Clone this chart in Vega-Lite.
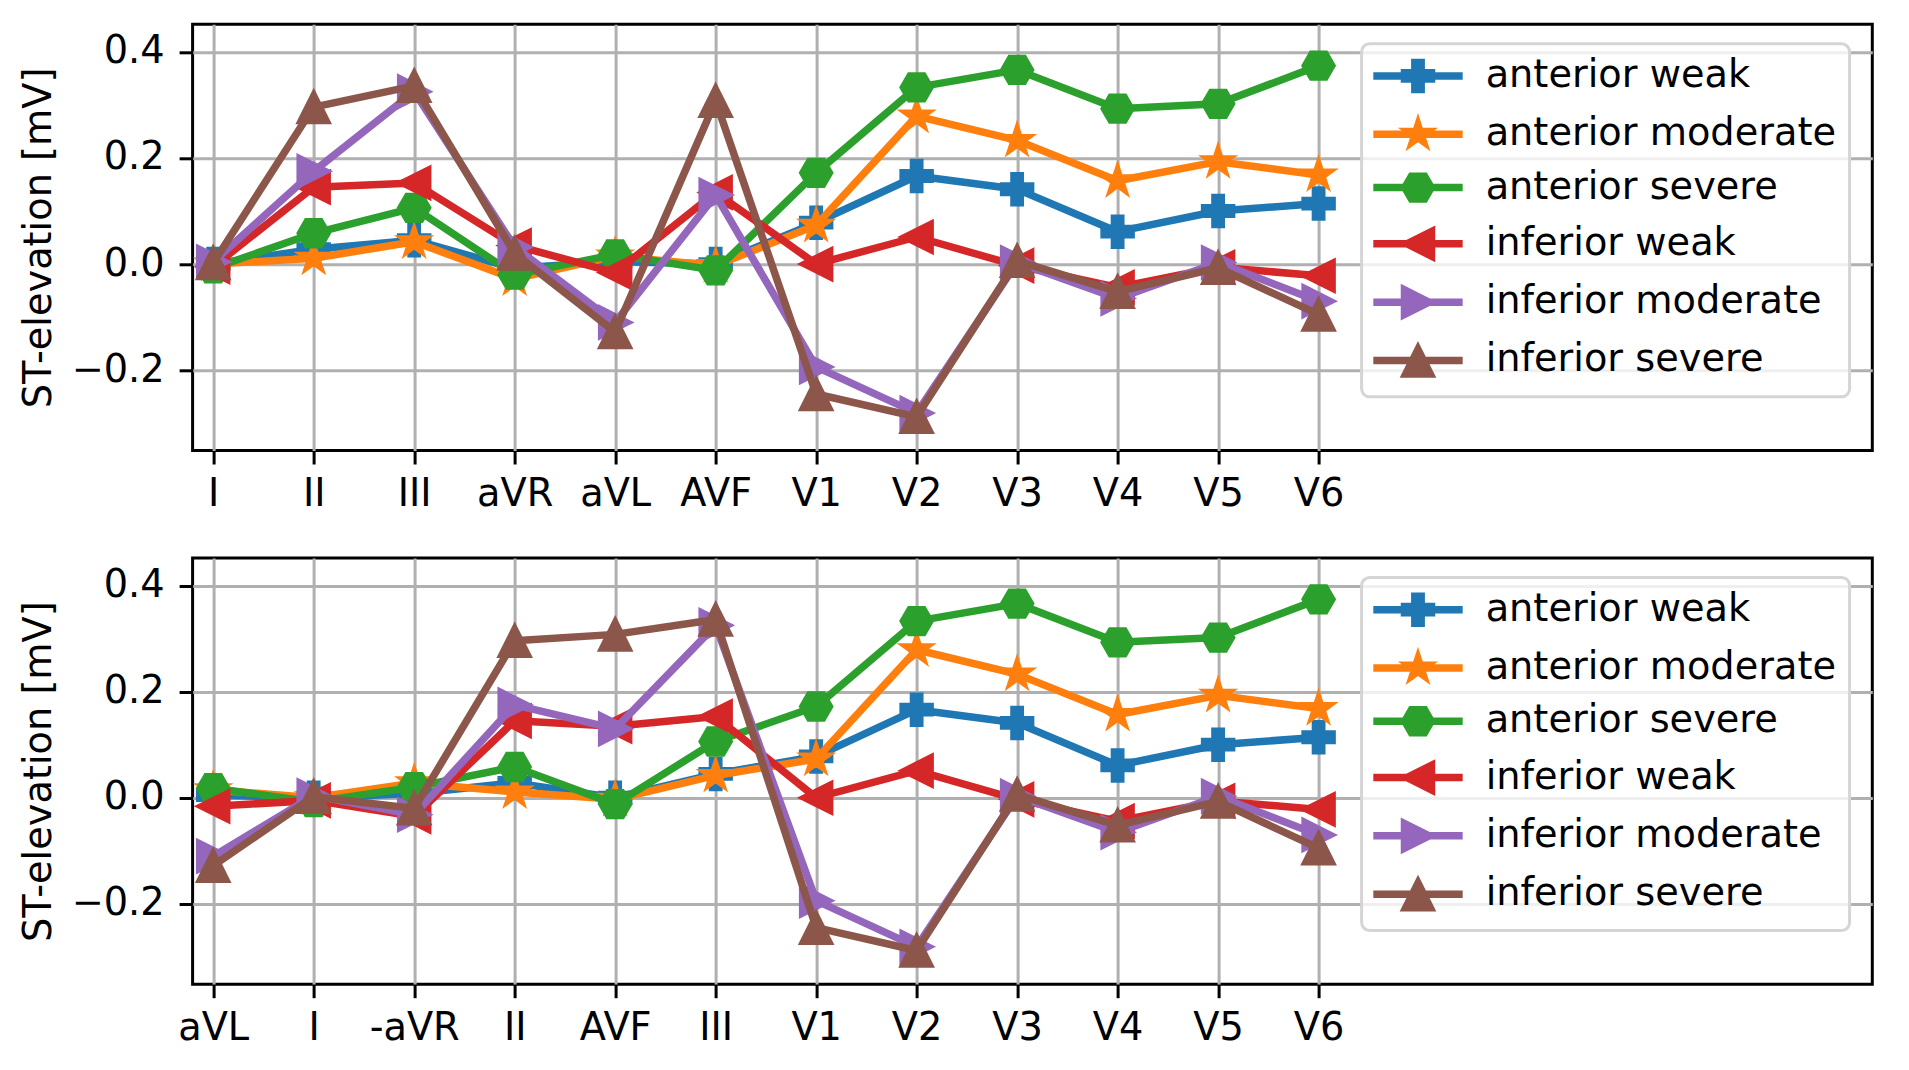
{
  "$schema": "https://vega.github.io/schema/vega-lite/v6.json",
  "background": "white",
  "padding": {"left": 17.6, "top": 22.3, "right": 35, "bottom": 30},
  "bounds": "flush",
  "spacing": 106.7,
  "datasets": {
    "top": [
      {"i": 0, "s": "anterior weak", "v": 0.0}, {"i": 1, "s": "anterior weak", "v": 0.028}, {"i": 2, "s": "anterior weak", "v": 0.045},
      {"i": 3, "s": "anterior weak", "v": -0.008}, {"i": 4, "s": "anterior weak", "v": 0.005}, {"i": 5, "s": "anterior weak", "v": 0.0},
      {"i": 6, "s": "anterior weak", "v": 0.078}, {"i": 7, "s": "anterior weak", "v": 0.166}, {"i": 8, "s": "anterior weak", "v": 0.141},
      {"i": 9, "s": "anterior weak", "v": 0.061}, {"i": 10, "s": "anterior weak", "v": 0.1}, {"i": 11, "s": "anterior weak", "v": 0.114},
      {"i": 0, "s": "anterior moderate", "v": 0.0}, {"i": 1, "s": "anterior moderate", "v": 0.011}, {"i": 2, "s": "anterior moderate", "v": 0.042},
      {"i": 3, "s": "anterior moderate", "v": -0.028}, {"i": 4, "s": "anterior moderate", "v": 0.015}, {"i": 5, "s": "anterior moderate", "v": -0.003},
      {"i": 6, "s": "anterior moderate", "v": 0.073}, {"i": 7, "s": "anterior moderate", "v": 0.279}, {"i": 8, "s": "anterior moderate", "v": 0.233},
      {"i": 9, "s": "anterior moderate", "v": 0.157}, {"i": 10, "s": "anterior moderate", "v": 0.193}, {"i": 11, "s": "anterior moderate", "v": 0.168},
      {"i": 0, "s": "anterior severe", "v": -0.008}, {"i": 1, "s": "anterior severe", "v": 0.058}, {"i": 2, "s": "anterior severe", "v": 0.106},
      {"i": 3, "s": "anterior severe", "v": -0.02}, {"i": 4, "s": "anterior severe", "v": 0.018}, {"i": 5, "s": "anterior severe", "v": -0.012},
      {"i": 6, "s": "anterior severe", "v": 0.172}, {"i": 7, "s": "anterior severe", "v": 0.333}, {"i": 8, "s": "anterior severe", "v": 0.366},
      {"i": 9, "s": "anterior severe", "v": 0.293}, {"i": 10, "s": "anterior severe", "v": 0.302}, {"i": 11, "s": "anterior severe", "v": 0.374},
      {"i": 0, "s": "inferior weak", "v": -0.005}, {"i": 1, "s": "inferior weak", "v": 0.145}, {"i": 2, "s": "inferior weak", "v": 0.153},
      {"i": 3, "s": "inferior weak", "v": 0.035}, {"i": 4, "s": "inferior weak", "v": -0.016}, {"i": 5, "s": "inferior weak", "v": 0.135},
      {"i": 6, "s": "inferior weak", "v": 0.0}, {"i": 7, "s": "inferior weak", "v": 0.051}, {"i": 8, "s": "inferior weak", "v": -0.003},
      {"i": 9, "s": "inferior weak", "v": -0.044}, {"i": 10, "s": "inferior weak", "v": -0.006}, {"i": 11, "s": "inferior weak", "v": -0.022},
      {"i": 0, "s": "inferior moderate", "v": 0.004}, {"i": 1, "s": "inferior moderate", "v": 0.175}, {"i": 2, "s": "inferior moderate", "v": 0.325},
      {"i": 3, "s": "inferior moderate", "v": 0.032}, {"i": 4, "s": "inferior moderate", "v": -0.11}, {"i": 5, "s": "inferior moderate", "v": 0.13},
      {"i": 6, "s": "inferior moderate", "v": -0.194}, {"i": 7, "s": "inferior moderate", "v": -0.281}, {"i": 8, "s": "inferior moderate", "v": 0.003},
      {"i": 9, "s": "inferior moderate", "v": -0.065}, {"i": 10, "s": "inferior moderate", "v": 0.003}, {"i": 11, "s": "inferior moderate", "v": -0.07},
      {"i": 0, "s": "inferior severe", "v": 0.002}, {"i": 1, "s": "inferior severe", "v": 0.296}, {"i": 2, "s": "inferior severe", "v": 0.336},
      {"i": 3, "s": "inferior severe", "v": 0.02}, {"i": 4, "s": "inferior severe", "v": -0.128}, {"i": 5, "s": "inferior severe", "v": 0.308},
      {"i": 6, "s": "inferior severe", "v": -0.245}, {"i": 7, "s": "inferior severe", "v": -0.288}, {"i": 8, "s": "inferior severe", "v": 0.006},
      {"i": 9, "s": "inferior severe", "v": -0.052}, {"i": 10, "s": "inferior severe", "v": -0.007}, {"i": 11, "s": "inferior severe", "v": -0.095}
    ],
    "bottom": [
      {"i": 0, "s": "anterior weak", "v": 0.005}, {"i": 1, "s": "anterior weak", "v": 0.0}, {"i": 2, "s": "anterior weak", "v": 0.008},
      {"i": 3, "s": "anterior weak", "v": 0.028}, {"i": 4, "s": "anterior weak", "v": 0.0}, {"i": 5, "s": "anterior weak", "v": 0.045},
      {"i": 6, "s": "anterior weak", "v": 0.078}, {"i": 7, "s": "anterior weak", "v": 0.166}, {"i": 8, "s": "anterior weak", "v": 0.141},
      {"i": 9, "s": "anterior weak", "v": 0.061}, {"i": 10, "s": "anterior weak", "v": 0.1}, {"i": 11, "s": "anterior weak", "v": 0.114},
      {"i": 0, "s": "anterior moderate", "v": 0.015}, {"i": 1, "s": "anterior moderate", "v": 0.0}, {"i": 2, "s": "anterior moderate", "v": 0.028},
      {"i": 3, "s": "anterior moderate", "v": 0.011}, {"i": 4, "s": "anterior moderate", "v": -0.003}, {"i": 5, "s": "anterior moderate", "v": 0.042},
      {"i": 6, "s": "anterior moderate", "v": 0.073}, {"i": 7, "s": "anterior moderate", "v": 0.279}, {"i": 8, "s": "anterior moderate", "v": 0.233},
      {"i": 9, "s": "anterior moderate", "v": 0.157}, {"i": 10, "s": "anterior moderate", "v": 0.193}, {"i": 11, "s": "anterior moderate", "v": 0.168},
      {"i": 0, "s": "anterior severe", "v": 0.018}, {"i": 1, "s": "anterior severe", "v": -0.008}, {"i": 2, "s": "anterior severe", "v": 0.02},
      {"i": 3, "s": "anterior severe", "v": 0.058}, {"i": 4, "s": "anterior severe", "v": -0.012}, {"i": 5, "s": "anterior severe", "v": 0.106},
      {"i": 6, "s": "anterior severe", "v": 0.172}, {"i": 7, "s": "anterior severe", "v": 0.333}, {"i": 8, "s": "anterior severe", "v": 0.366},
      {"i": 9, "s": "anterior severe", "v": 0.293}, {"i": 10, "s": "anterior severe", "v": 0.302}, {"i": 11, "s": "anterior severe", "v": 0.374},
      {"i": 0, "s": "inferior weak", "v": -0.016}, {"i": 1, "s": "inferior weak", "v": -0.005}, {"i": 2, "s": "inferior weak", "v": -0.035},
      {"i": 3, "s": "inferior weak", "v": 0.145}, {"i": 4, "s": "inferior weak", "v": 0.135}, {"i": 5, "s": "inferior weak", "v": 0.153},
      {"i": 6, "s": "inferior weak", "v": 0.0}, {"i": 7, "s": "inferior weak", "v": 0.051}, {"i": 8, "s": "inferior weak", "v": -0.003},
      {"i": 9, "s": "inferior weak", "v": -0.044}, {"i": 10, "s": "inferior weak", "v": -0.006}, {"i": 11, "s": "inferior weak", "v": -0.022},
      {"i": 0, "s": "inferior moderate", "v": -0.11}, {"i": 1, "s": "inferior moderate", "v": 0.004}, {"i": 2, "s": "inferior moderate", "v": -0.032},
      {"i": 3, "s": "inferior moderate", "v": 0.175}, {"i": 4, "s": "inferior moderate", "v": 0.13}, {"i": 5, "s": "inferior moderate", "v": 0.325},
      {"i": 6, "s": "inferior moderate", "v": -0.194}, {"i": 7, "s": "inferior moderate", "v": -0.281}, {"i": 8, "s": "inferior moderate", "v": 0.003},
      {"i": 9, "s": "inferior moderate", "v": -0.065}, {"i": 10, "s": "inferior moderate", "v": 0.003}, {"i": 11, "s": "inferior moderate", "v": -0.07},
      {"i": 0, "s": "inferior severe", "v": -0.128}, {"i": 1, "s": "inferior severe", "v": 0.002}, {"i": 2, "s": "inferior severe", "v": -0.02},
      {"i": 3, "s": "inferior severe", "v": 0.296}, {"i": 4, "s": "inferior severe", "v": 0.308}, {"i": 5, "s": "inferior severe", "v": 0.336},
      {"i": 6, "s": "inferior severe", "v": -0.245}, {"i": 7, "s": "inferior severe", "v": -0.288}, {"i": 8, "s": "inferior severe", "v": 0.006},
      {"i": 9, "s": "inferior severe", "v": -0.052}, {"i": 10, "s": "inferior severe", "v": -0.007}, {"i": 11, "s": "inferior severe", "v": -0.095}
    ]
  },
  "vconcat": [
    {
      "width": 1679.7,
      "height": 426.2,
      "data": {"name": "top"},
      "encoding": {
        "x": {
          "field": "i", "type": "quantitative",
          "scale": {"domain": [-0.205, 16.51], "nice": false, "zero": false},
          "axis": {"title": null, "values": [0, 1, 2, 3, 4, 5, 6, 7, 8, 9, 10, 11],
            "labelExpr": "['I','II','III','aVR','aVL','AVF','V1','V2','V3','V4','V5','V6'][datum.value]"}
        },
        "y": {
          "field": "v", "type": "quantitative",
          "scale": {"domain": [-0.3515, 0.452], "nice": false, "zero": false},
          "axis": {"title": "ST-elevation [mV]", "values": [-0.2, 0, 0.2, 0.4], "format": ".1f"}
        },
        "color": {
          "field": "s", "type": "nominal",
          "scale": {
            "domain": ["anterior weak", "anterior moderate", "anterior severe", "inferior weak", "inferior moderate", "inferior severe"],
            "range": ["#1f77b4", "#ff7f0e", "#2ca02c", "#d62728", "#9467bd", "#8c564b"]
          },
          "legend": {
            "title": null, "orient": "none", "legendX": 1169, "legendY": 19.5,
            "encode": {
              "symbols": {
                "update": {
                  "shape": {"signal": "datum.value==='anterior weak'?'M-2.77,-0.13H2.77V0.13H-2.77ZM-0.333,-1H0.333V-0.333H1V0.333H0.333V1H-0.333V0.333H-1V-0.333H-0.333Z':datum.value==='anterior moderate'?'M-2.77,-0.13H2.77V0.13H-2.77ZM0,-1L0.2245,-0.309L0.951,-0.309L0.363,0.118L0.588,0.809L0,0.382L-0.588,0.809L-0.363,0.118L-0.951,-0.309L-0.2245,-0.309Z':datum.value==='anterior severe'?'M-2.77,-0.13H2.77V0.13H-2.77ZM1,0L0.5,0.866L-0.5,0.866L-1,0L-0.5,-0.866L0.5,-0.866Z':datum.value==='inferior weak'?'M-2.77,-0.13H2.77V0.13H-2.77ZM-1,0L1,-1L1,1Z':datum.value==='inferior moderate'?'M-2.77,-0.13H2.77V0.13H-2.77ZM1,0L-1,1L-1,-1Z':'M-2.77,-0.13H2.77V0.13H-2.77ZM0,-1L1,1L-1,1Z'"},
                  "fill": {"signal": "datum.value==='anterior weak'?'#1f77b4':datum.value==='anterior moderate'?'#ff7f0e':datum.value==='anterior severe'?'#2ca02c':datum.value==='inferior weak'?'#d62728':datum.value==='inferior moderate'?'#9467bd':'#8c564b'"},
                  "stroke": {"signal": "datum.value==='anterior weak'?'#1f77b4':datum.value==='anterior moderate'?'#ff7f0e':datum.value==='anterior severe'?'#2ca02c':datum.value==='inferior weak'?'#d62728':datum.value==='inferior moderate'?'#9467bd':'#8c564b'"},
                  "strokeWidth": {"value": 3.5},
                  "fillOpacity": {"value": 1},
                  "strokeOpacity": {"value": 1}
                }
              }
            }
          }
        }
      },
      "layer": [
        {"transform": [{"filter": "datum.s==='anterior weak'"}], "mark": {"type": "line", "strokeWidth": 7.5, "strokeJoin": "round"}, "encoding": {}},
        {"transform": [{"filter": "datum.s==='anterior weak'"}], "mark": {"type": "point", "filled": true, "opacity": 1, "size": 961, "stroke": "#1f77b4", "strokeWidth": 3.5, "shape": "M-0.333,-1H0.333V-0.333H1V0.333H0.333V1H-0.333V0.333H-1V-0.333H-0.333Z"}},
        {"transform": [{"filter": "datum.s==='anterior moderate'"}], "mark": {"type": "line", "strokeWidth": 7.5, "strokeJoin": "round"}, "encoding": {}},
        {"transform": [{"filter": "datum.s==='anterior moderate'"}], "mark": {"type": "point", "filled": true, "opacity": 1, "size": 961, "stroke": "#ff7f0e", "strokeWidth": 3.5, "shape": "M0,-1L0.2245,-0.309L0.951,-0.309L0.363,0.118L0.588,0.809L0,0.382L-0.588,0.809L-0.363,0.118L-0.951,-0.309L-0.2245,-0.309Z"}},
        {"transform": [{"filter": "datum.s==='anterior severe'"}], "mark": {"type": "line", "strokeWidth": 7.5, "strokeJoin": "round"}, "encoding": {}},
        {"transform": [{"filter": "datum.s==='anterior severe'"}], "mark": {"type": "point", "filled": true, "opacity": 1, "size": 961, "stroke": "#2ca02c", "strokeWidth": 3.5, "shape": "M1,0L0.5,0.866L-0.5,0.866L-1,0L-0.5,-0.866L0.5,-0.866Z"}},
        {"transform": [{"filter": "datum.s==='inferior weak'"}], "mark": {"type": "line", "strokeWidth": 7.5, "strokeJoin": "round"}, "encoding": {}},
        {"transform": [{"filter": "datum.s==='inferior weak'"}], "mark": {"type": "point", "filled": true, "opacity": 1, "size": 961, "stroke": "#d62728", "strokeWidth": 3.5, "shape": "M-1,0L1,-1L1,1Z"}},
        {"transform": [{"filter": "datum.s==='inferior moderate'"}], "mark": {"type": "line", "strokeWidth": 7.5, "strokeJoin": "round"}, "encoding": {}},
        {"transform": [{"filter": "datum.s==='inferior moderate'"}], "mark": {"type": "point", "filled": true, "opacity": 1, "size": 961, "stroke": "#9467bd", "strokeWidth": 3.5, "shape": "M1,0L-1,1L-1,-1Z"}},
        {"transform": [{"filter": "datum.s==='inferior severe'"}], "mark": {"type": "line", "strokeWidth": 7.5, "strokeJoin": "round"}, "encoding": {}},
        {"transform": [{"filter": "datum.s==='inferior severe'"}], "mark": {"type": "point", "filled": true, "opacity": 1, "size": 961, "stroke": "#8c564b", "strokeWidth": 3.5, "shape": "M0,-1L1,1L-1,1Z"}}
      ]
    },
    {
      "width": 1679.7,
      "height": 426.2,
      "data": {"name": "bottom"},
      "encoding": {
        "x": {
          "field": "i", "type": "quantitative",
          "scale": {"domain": [-0.205, 16.51], "nice": false, "zero": false},
          "axis": {"title": null, "values": [0, 1, 2, 3, 4, 5, 6, 7, 8, 9, 10, 11],
            "labelExpr": "['aVL','I','-aVR','II','AVF','III','V1','V2','V3','V4','V5','V6'][datum.value]"}
        },
        "y": {
          "field": "v", "type": "quantitative",
          "scale": {"domain": [-0.3515, 0.452], "nice": false, "zero": false},
          "axis": {"title": "ST-elevation [mV]", "values": [-0.2, 0, 0.2, 0.4], "format": ".1f"}
        },
        "color": {
          "field": "s", "type": "nominal",
          "scale": {
            "domain": ["anterior weak", "anterior moderate", "anterior severe", "inferior weak", "inferior moderate", "inferior severe"],
            "range": ["#1f77b4", "#ff7f0e", "#2ca02c", "#d62728", "#9467bd", "#8c564b"]
          },
          "legend": {
            "title": null, "orient": "none", "legendX": 1169, "legendY": 19.5,
            "encode": {
              "symbols": {
                "update": {
                  "shape": {"signal": "datum.value==='anterior weak'?'M-2.77,-0.13H2.77V0.13H-2.77ZM-0.333,-1H0.333V-0.333H1V0.333H0.333V1H-0.333V0.333H-1V-0.333H-0.333Z':datum.value==='anterior moderate'?'M-2.77,-0.13H2.77V0.13H-2.77ZM0,-1L0.2245,-0.309L0.951,-0.309L0.363,0.118L0.588,0.809L0,0.382L-0.588,0.809L-0.363,0.118L-0.951,-0.309L-0.2245,-0.309Z':datum.value==='anterior severe'?'M-2.77,-0.13H2.77V0.13H-2.77ZM1,0L0.5,0.866L-0.5,0.866L-1,0L-0.5,-0.866L0.5,-0.866Z':datum.value==='inferior weak'?'M-2.77,-0.13H2.77V0.13H-2.77ZM-1,0L1,-1L1,1Z':datum.value==='inferior moderate'?'M-2.77,-0.13H2.77V0.13H-2.77ZM1,0L-1,1L-1,-1Z':'M-2.77,-0.13H2.77V0.13H-2.77ZM0,-1L1,1L-1,1Z'"},
                  "fill": {"signal": "datum.value==='anterior weak'?'#1f77b4':datum.value==='anterior moderate'?'#ff7f0e':datum.value==='anterior severe'?'#2ca02c':datum.value==='inferior weak'?'#d62728':datum.value==='inferior moderate'?'#9467bd':'#8c564b'"},
                  "stroke": {"signal": "datum.value==='anterior weak'?'#1f77b4':datum.value==='anterior moderate'?'#ff7f0e':datum.value==='anterior severe'?'#2ca02c':datum.value==='inferior weak'?'#d62728':datum.value==='inferior moderate'?'#9467bd':'#8c564b'"},
                  "strokeWidth": {"value": 3.5},
                  "fillOpacity": {"value": 1},
                  "strokeOpacity": {"value": 1}
                }
              }
            }
          }
        }
      },
      "layer": [
        {"transform": [{"filter": "datum.s==='anterior weak'"}], "mark": {"type": "line", "strokeWidth": 7.5, "strokeJoin": "round"}, "encoding": {}},
        {"transform": [{"filter": "datum.s==='anterior weak'"}], "mark": {"type": "point", "filled": true, "opacity": 1, "size": 961, "stroke": "#1f77b4", "strokeWidth": 3.5, "shape": "M-0.333,-1H0.333V-0.333H1V0.333H0.333V1H-0.333V0.333H-1V-0.333H-0.333Z"}},
        {"transform": [{"filter": "datum.s==='anterior moderate'"}], "mark": {"type": "line", "strokeWidth": 7.5, "strokeJoin": "round"}, "encoding": {}},
        {"transform": [{"filter": "datum.s==='anterior moderate'"}], "mark": {"type": "point", "filled": true, "opacity": 1, "size": 961, "stroke": "#ff7f0e", "strokeWidth": 3.5, "shape": "M0,-1L0.2245,-0.309L0.951,-0.309L0.363,0.118L0.588,0.809L0,0.382L-0.588,0.809L-0.363,0.118L-0.951,-0.309L-0.2245,-0.309Z"}},
        {"transform": [{"filter": "datum.s==='anterior severe'"}], "mark": {"type": "line", "strokeWidth": 7.5, "strokeJoin": "round"}, "encoding": {}},
        {"transform": [{"filter": "datum.s==='anterior severe'"}], "mark": {"type": "point", "filled": true, "opacity": 1, "size": 961, "stroke": "#2ca02c", "strokeWidth": 3.5, "shape": "M1,0L0.5,0.866L-0.5,0.866L-1,0L-0.5,-0.866L0.5,-0.866Z"}},
        {"transform": [{"filter": "datum.s==='inferior weak'"}], "mark": {"type": "line", "strokeWidth": 7.5, "strokeJoin": "round"}, "encoding": {}},
        {"transform": [{"filter": "datum.s==='inferior weak'"}], "mark": {"type": "point", "filled": true, "opacity": 1, "size": 961, "stroke": "#d62728", "strokeWidth": 3.5, "shape": "M-1,0L1,-1L1,1Z"}},
        {"transform": [{"filter": "datum.s==='inferior moderate'"}], "mark": {"type": "line", "strokeWidth": 7.5, "strokeJoin": "round"}, "encoding": {}},
        {"transform": [{"filter": "datum.s==='inferior moderate'"}], "mark": {"type": "point", "filled": true, "opacity": 1, "size": 961, "stroke": "#9467bd", "strokeWidth": 3.5, "shape": "M1,0L-1,1L-1,-1Z"}},
        {"transform": [{"filter": "datum.s==='inferior severe'"}], "mark": {"type": "line", "strokeWidth": 7.5, "strokeJoin": "round"}, "encoding": {}},
        {"transform": [{"filter": "datum.s==='inferior severe'"}], "mark": {"type": "point", "filled": true, "opacity": 1, "size": 961, "stroke": "#8c564b", "strokeWidth": 3.5, "shape": "M0,-1L1,1L-1,1Z"}}
      ]
    }
  ],
  "resolve": {
    "scale": {"x": "independent", "y": "independent", "color": "independent"},
    "axis": {"x": "independent", "y": "independent"},
    "legend": {"color": "independent"}
  },
  "config": {
    "font": "DejaVu Sans",
    "view": {"stroke": "black", "strokeWidth": 3},
    "axis": {
      "domain": false,
      "grid": true, "gridColor": "#b0b0b0", "gridWidth": 3, "gridOpacity": 1,
      "ticks": true, "tickColor": "black", "tickWidth": 3, "tickSize": 13.5,
      "labelFont": "DejaVu Sans", "labelFontSize": 38.3, "labelColor": "black",
      "titleFont": "DejaVu Sans", "titleFontSize": 38.3, "titleFontWeight": "normal", "titleColor": "black"
    },
    "axisX": {"labelPadding": 12, "labelFlush": false, "labelOverlap": false},
    "axisY": {"labelPadding": 15, "titleX": -142, "titleY": 213.1, "titleAngle": -90, "titleBaseline": "alphabetic", "titleAlign": "center"},
    "legend": {
      "padding": 13, "rowPadding": 12.3, "symbolSize": 961, "symbolStrokeWidth": 3.5,
      "symbolOffset": 24.25, "labelOffset": 48.5, "labelFont": "DejaVu Sans", "labelFontSize": 38.3, "labelColor": "black", "labelLimit": 0,
      "fillColor": "rgba(255,255,255,0.8)", "strokeColor": "#d5d5d5", "strokeWidth": 3, "cornerRadius": 8
    }
  }
}
